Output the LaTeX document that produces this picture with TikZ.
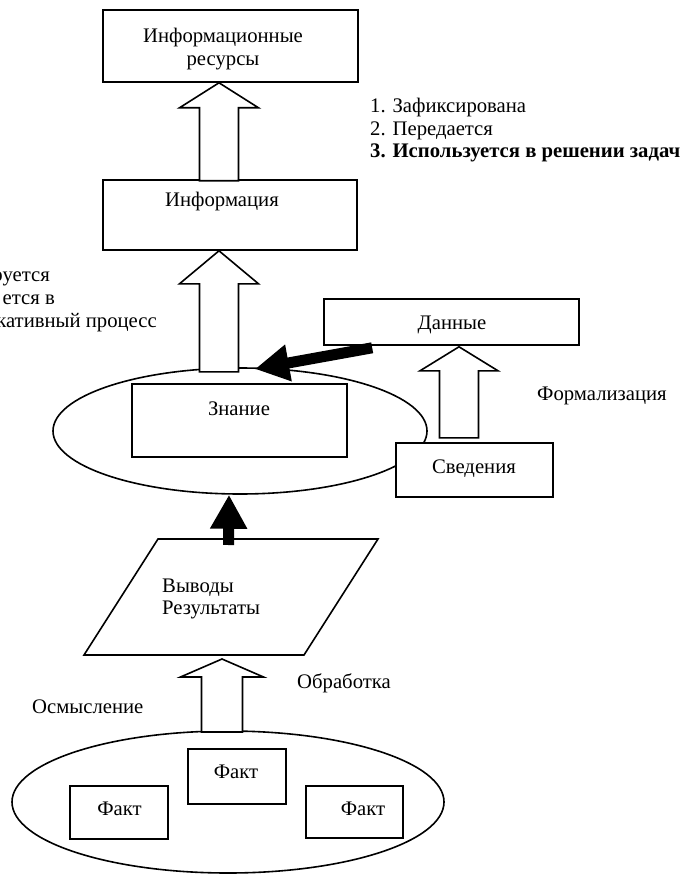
\documentclass[tikz,border=0pt]{standalone}
\usepackage{fontspec}
\setmainfont{Liberation Serif}
\usetikzlibrary{shapes.geometric,arrows.meta,calc}
\newcommand{\blockarrow}[5]{%
  \draw[hollow] (#1) -- ++(#2,#3) -- ++({-(#2-#4)},0) -- ++(0,#5) -- ++({-2*#4},0)
    -- ++(0,{-#5}) -- ++({-(#2-#4)},0) -- cycle;}
\begin{document}
\begin{tikzpicture}[x=1pt,y=-1pt,
  box/.style={draw, line width=1.6pt, fill=white, inner sep=0pt},
  oval/.style={draw, ellipse, line width=1.6pt, fill=white, inner sep=0pt},
  txt/.style={inner sep=0pt, font=\fontsize{20.7}{23}\selectfont},
  hollow/.style={draw, line width=1.6pt, fill=white, line join=miter},
  solidarrow/.style={line width=11pt, -{Triangle[length=34pt,width=35pt]}}]
\useasboundingbox (0,0) rectangle (689,874);
\clip (0,0) rectangle (689,874);

% ellipses
\node[oval, minimum width=374pt, minimum height=126pt] (zne) at (240,431) {};
\node[oval, minimum width=432pt, minimum height=142pt] (fe) at (228,802) {};

% boxes
\node[box, minimum width=255pt, minimum height=72pt] (ir) at (230.5,46) {};
\node[box, minimum width=254pt, minimum height=70pt] (inf) at (230,215) {};
\node[box, minimum width=255pt, minimum height=46pt] (dan) at (451.5,322) {};
\node[box, minimum width=215pt, minimum height=73pt] (zn) at (239.5,420.5) {};
\node[box, minimum width=157pt, minimum height=54pt] (sv) at (474.5,470) {};
\node[box, minimum width=98pt, minimum height=53pt] (f1) at (119,812.5) {};
\node[box, minimum width=98pt, minimum height=55pt] (f2) at (237,776.5) {};
\node[box, minimum width=97pt, minimum height=52pt] (f3) at (354.5,812) {};

% parallelogram
\coordinate (ptl) at (158,539);
\coordinate (ptr) at (378,539);
\coordinate (pbr) at (304,655);
\coordinate (pbl) at (84,655);
\draw[line width=1.6pt, fill=white] (ptl) -- (ptr) -- (pbr) -- (pbl) -- cycle;

% hollow block arrows
\coordinate (t1) at ($(ir.south)+(-11.5,0)$);
\blockarrow{t1}{39.5}{25}{19.5}{73}
\coordinate (t2) at ($(inf.south)+(-11,0)$);
\blockarrow{t2}{39.5}{33}{19.5}{88}
\coordinate (t3) at ($(dan.south)+(7.5,1)$);
\blockarrow{t3}{39}{24}{19.5}{67}
\coordinate (t4) at (222,659);
\blockarrow{t4}{41.5}{18}{20.5}{55}

% solid arrows
\coordinate (s1) at ($(dan.south west)+(49,2)$);
\coordinate (e1) at (255,369);
\draw[solidarrow] (s1) -- (e1);
\coordinate (s2) at (228.5,545);
\coordinate (e2) at ($(zne.south)+(-11,0)$);
\draw[solidarrow] (s2) -- (e2);

% texts in boxes
\node[txt, anchor=base] (irt1) at (223,43) {Информационные};
\node[txt, anchor=base] (irt2) at (223,66) {ресурсы};
\node[txt, anchor=base] (inft) at (222,207) {Информация};
\node[txt, anchor=base] (dant) at (452,329) {Данные};
\node[txt, anchor=base] (znt) at (239,415) {Знание};
\node[txt, anchor=base] (svt) at (474,473) {Сведения};
\node[txt, anchor=base west] (vt1) at (162,592) {Выводы};
\node[txt, anchor=base west] (vt2) at (162,614) {Результаты};
\node[txt, anchor=base] (f1t) at (119.5,815) {Факт};
\node[txt, anchor=base] (f2t) at (236,778) {Факт};
\node[txt, anchor=base] (f3t) at (363,815) {Факт};

% free labels
\node[txt, anchor=base west] (formt) at (537,400) {Формализация};
\node[txt, anchor=base west] (obrt) at (297,688) {Обработка};
\node[txt, anchor=base west] (osmt) at (32,713) {Осмысление};

\node[txt, anchor=base west] (r1) at (370,113) {1. Зафиксирована};
\node[txt, anchor=base west] (r2) at (370,136) {2. Передается};
\node[txt, anchor=base west, font=\fontsize{20.7}{23}\selectfont\bfseries] (r3) at (370,158) {3. Используется в решении задач};

\node[txt, anchor=base east] (l1) at (50,281) {руется};
\node[txt, anchor=base east] (l2) at (55,304) {ется в};
\node[txt, anchor=base east] (l3) at (157,327) {кативный процесс};
\end{tikzpicture}
\end{document}
